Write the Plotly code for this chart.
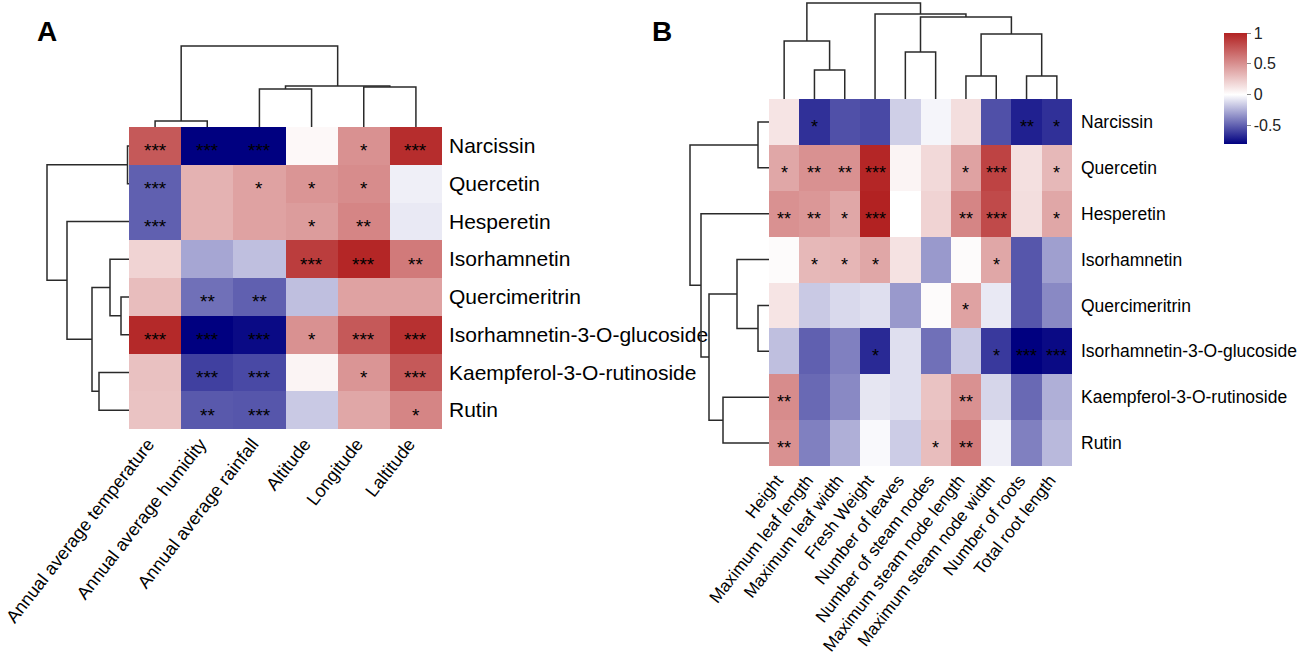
import plotly.graph_objects as go

W, H = 1299, 660

# ---------------- data ----------------
compounds = ["Narcissin", "Quercetin", "Hesperetin", "Isorhamnetin", "Quercimeritrin",
             "Isorhamnetin-3-O-glucoside", "Kaempferol-3-O-rutinoside", "Rutin"]

a_cols = ["Annual average temperature", "Annual average humidity", "Annual average rainfall",
          "Altitude", "Longitude", "Laltitude"]
a_vals = [
    [0.75, -0.80, -0.80, 0.03, 0.50, 0.95],
    [-0.50, 0.35, 0.42, 0.48, 0.52, -0.05],
    [-0.50, 0.35, 0.42, 0.45, 0.55, -0.07],
    [0.20, -0.28, -0.20, 0.88, 0.98, 0.60],
    [0.30, -0.45, -0.50, -0.20, 0.42, 0.42],
    [0.97, -0.80, -0.77, 0.50, 0.75, 0.93],
    [0.28, -0.60, -0.57, 0.05, 0.48, 0.75],
    [0.27, -0.52, -0.53, -0.17, 0.40, 0.55],
]
a_sig = [
    ["***", "***", "***", "", "*", "***"],
    ["***", "", "*", "*", "*", ""],
    ["***", "", "", "*", "**", ""],
    ["", "", "", "***", "***", "**"],
    ["", "**", "**", "", "", ""],
    ["***", "***", "***", "*", "***", "***"],
    ["", "***", "***", "", "*", "***"],
    ["", "**", "***", "", "", "*"],
]
# linkage: (child_a, child_b, height); leaves 0..n-1, new nodes n, n+1, ...
a_row_links = [(0, 1, 1.5), (4, 5, 8), (3, 9, 19), (6, 7, 30), (10, 11, 37), (2, 12, 62), (8, 13, 82)]
a_col_links = [(0, 1, 6), (2, 3, 38), (4, 5, 40), (7, 8, 41), (6, 9, 81)]

b_cols = ["Height", "Maximum leaf length", "Maximum leaf width", "Fresh Weight", "Number of leaves",
          "Number of steam nodes", "Maximum steam node length", "Maximum steam node width",
          "Number of roots", "Total root length"]
b_vals = [
    [0.12, -0.65, -0.55, -0.57, -0.15, -0.03, 0.15, -0.55, -0.70, -0.65],
    [0.40, 0.50, 0.50, 0.98, 0.05, 0.17, 0.42, 0.85, 0.14, 0.32],
    [0.50, 0.47, 0.40, 1.00, 0.00, 0.20, 0.55, 0.82, 0.15, 0.40],
    [0.02, 0.32, 0.33, 0.40, 0.13, -0.32, 0.02, 0.40, -0.53, -0.30],
    [0.12, -0.17, -0.12, -0.10, -0.32, 0.02, 0.42, -0.07, -0.53, -0.37],
    [-0.20, -0.50, -0.40, -0.67, -0.10, -0.45, -0.17, -0.62, -0.80, -0.77],
    [0.52, -0.47, -0.37, -0.08, -0.10, 0.27, 0.50, -0.13, -0.47, -0.25],
    [0.50, -0.40, -0.25, -0.02, -0.16, 0.30, 0.60, -0.05, -0.40, -0.22],
]
b_sig = [
    ["", "*", "", "", "", "", "", "", "**", "*"],
    ["*", "**", "**", "***", "", "", "*", "***", "", "*"],
    ["**", "**", "*", "***", "", "", "**", "***", "", "*"],
    ["", "*", "*", "*", "", "", "", "*", "", ""],
    ["", "", "", "", "", "", "*", "", "", ""],
    ["", "", "", "*", "", "", "", "*", "***", "***"],
    ["**", "", "", "", "", "", "**", "", "", ""],
    ["**", "", "", "", "", "*", "**", "", "", ""],
]
b_row_links = [(0, 1, 11), (4, 5, 11), (3, 9, 32), (6, 7, 46), (10, 11, 60), (2, 12, 68), (8, 13, 79)]
b_col_links = [(1, 2, 29), (0, 10, 58), (4, 5, 47), (6, 7, 23), (8, 9, 23), (13, 14, 65),
               (12, 15, 82), (3, 16, 85), (11, 17, 96)]

cbar_ticks = [-0.5, 0, 0.5, 1]
z_min, z_max = -0.8, 1.0

# ---------------- helpers ----------------
FONT = "Liberation Sans, Arial, sans-serif"
LINE = dict(color="#2a2a2a", width=1.5)
colorscale = [[0, "#000080"], [(0 - z_min) / (z_max - z_min), "#FFFFFF"], [1, "#B22222"]]


def xdom(p0, p1):
    return [p0 / W, p1 / W]


def ydom(top, bottom):
    return [1 - bottom / H, 1 - top / H]


def dendro(n, links):
    pos = {i: float(i) for i in range(n)}
    hgt = {i: 0.0 for i in range(n)}
    ps, hs = [], []
    for k, (a, b, h) in enumerate(links):
        ps += [pos[a], pos[a], pos[b], pos[b], None]
        hs += [hgt[a], h, h, hgt[b], None]
        pos[n + k] = (pos[a] + pos[b]) / 2
        hgt[n + k] = h
    return ps, hs


fig = go.Figure()
hidden = dict(visible=False, showgrid=False, zeroline=False, fixedrange=True, automargin=False)
PAD = 3  # px room for the root line


def panel(idx, rows, cols, vals, sig, row_links, col_links, box, col_top, row_left,
          row_font, col_font, star_font, row_standoff, show_scale):
    x0, x1, y0, y1 = box
    hx, hy = f"x{idx}", f"y{idx}"
    cx, cy = f"x{idx+1}", f"y{idx+1}"
    rx, ry = f"x{idx+2}", f"y{idx+2}"
    nr, nc = len(rows), len(cols)
    hm = go.Heatmap(z=vals, x=list(range(nc)), y=list(range(nr)), zmin=z_min, zmax=z_max,
                    colorscale=colorscale, xaxis=hx, yaxis=hy, xgap=0, ygap=0,
                    showscale=show_scale, hoverinfo="skip")
    if show_scale:
        hm.colorbar = dict(x=1224 / W, xanchor="left", y=1 - 33 / H, yanchor="top",
                           len=111 / H, lenmode="fraction", thickness=23, outlinewidth=0,
                           xpad=0, ypad=0,
                           tickvals=cbar_ticks, ticktext=[f"{t:g}" for t in cbar_ticks],
                           ticks="outside", ticklen=4, tickcolor="#888888",
                           tickfont=dict(family=FONT, size=16, color="#222222"))
    fig.add_trace(hm)
    for i in range(nr):
        for j in range(nc):
            if sig[i][j]:
                fig.add_annotation(x=j, y=i, xref=hx, yref=hy, text=sig[i][j], showarrow=False,
                                   yshift=-5, font=dict(family=FONT, size=star_font, color="black"))
    # column dendrogram
    ps, hs = dendro(nc, col_links)
    croot = col_links[-1][2]
    fig.add_trace(go.Scatter(x=ps, y=hs, mode="lines", line=LINE, xaxis=cx, yaxis=cy,
                             hoverinfo="skip", showlegend=False))
    # row dendrogram
    ps, hs = dendro(nr, row_links)
    rroot = row_links[-1][2]
    fig.add_trace(go.Scatter(x=hs, y=ps, mode="lines", line=LINE, xaxis=rx, yaxis=ry,
                             hoverinfo="skip", showlegend=False))
    s = "" if idx == 1 else str(idx)
    s1, s2 = str(idx + 1), str(idx + 2)
    cspan = y0 - col_top
    rspan = x0 - row_left
    fig.update_layout(**{
        f"xaxis{s}": dict(domain=xdom(x0, x1), anchor=hy, range=[-0.5, nc - 0.5],
                          tickvals=list(range(nc)), ticktext=cols, tickangle=-52, ticks="",
                          ticklabelshift=-7,
                          showgrid=False, zeroline=False, showline=False, automargin=False,
                          tickfont=dict(family=FONT, size=col_font, color="black")),
        f"yaxis{s}": dict(domain=ydom(y0, y1), anchor=hx, range=[nr - 0.5, -0.5], side="right",
                          tickvals=list(range(nr)), ticktext=rows, ticks="", automargin=False,
                          showgrid=False, zeroline=False, showline=False,
                          ticklabelstandoff=row_standoff,
                          tickfont=dict(family=FONT, size=row_font, color="black")),
        f"xaxis{s1}": dict(domain=xdom(x0, x1), anchor=cy, range=[-0.5, nc - 0.5], **hidden),
        f"yaxis{s1}": dict(domain=ydom(col_top - PAD, y0), anchor=cx,
                           range=[0, croot * (cspan + PAD) / cspan], **hidden),
        f"xaxis{s2}": dict(domain=xdom(row_left - PAD, x0), anchor=ry,
                           range=[rroot * (rspan + PAD) / rspan, 0], **hidden),
        f"yaxis{s2}": dict(domain=ydom(y0, y1), anchor=rx, range=[nr - 0.5, -0.5], **hidden),
    })


panel(1, compounds, a_cols, a_vals, a_sig, a_row_links, a_col_links,
      (129, 442, 127, 429), 46, 47, 21, 18, 19, 6, False)
panel(4, compounds, b_cols, b_vals, b_sig, b_row_links, b_col_links,
      (769, 1072, 99, 466), 3, 690, 17.5, 17, 18, 8, True)

fig.add_annotation(text="<b>A</b>", x=35 / W, y=1 - 14 / H, xref="paper", yref="paper",
                   xanchor="left", yanchor="top", showarrow=False,
                   font=dict(family=FONT, size=28, color="black"))
fig.add_annotation(text="<b>B</b>", x=650 / W, y=1 - 14 / H, xref="paper", yref="paper",
                   xanchor="left", yanchor="top", showarrow=False,
                   font=dict(family=FONT, size=28, color="black"))

fig.update_layout(width=W, height=H, autosize=False, margin=dict(l=0, r=0, t=0, b=0),
                  paper_bgcolor="white", plot_bgcolor="white", showlegend=False)

fig.write_html("out.html", config={"displayModeBar": False},
               post_script="document.body.style.margin='0';document.body.style.padding='0';")
